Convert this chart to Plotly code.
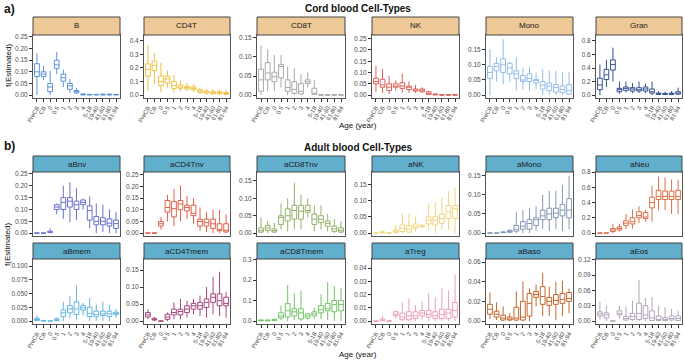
import plotly.graph_objects as go

cats = ["PreCB", "CB", "0", "0.5", "1", "2", "3", "4", "5-18", "19-40", "41-60", "61-80", "81-94"]

# each panel: (lower whisker, q1, median, q3, upper whisker)
B_lo  = [0.00, 0.065, 0.000, 0.090, 0.035, 0.010, 0.005, 0.000, 0.000, 0.000, 0.000, 0.000, 0.000]
B_q1  = [0.080, 0.080, 0.015, 0.115, 0.060, 0.025, 0.010, 0.001, 0.001, 0.001, 0.001, 0.001, 0.001]
B_med = [0.100, 0.090, 0.035, 0.130, 0.075, 0.040, 0.015, 0.003, 0.002, 0.002, 0.002, 0.002, 0.002]
B_q3  = [0.135, 0.100, 0.050, 0.150, 0.090, 0.050, 0.020, 0.005, 0.003, 0.003, 0.004, 0.004, 0.003]
B_hi  = [0.180, 0.125, 0.105, 0.185, 0.110, 0.070, 0.030, 0.008, 0.006, 0.006, 0.008, 0.008, 0.006]

CD4T_lo  = [0.03, 0.08, 0.02, 0.05, 0.02, 0.03, 0.03, 0.025, 0.010, 0.005, 0.000, 0.000, 0.000]
CD4T_q1  = [0.14, 0.18, 0.07, 0.09, 0.05, 0.05, 0.045, 0.040, 0.020, 0.015, 0.010, 0.010, 0.005]
CD4T_med = [0.19, 0.22, 0.10, 0.12, 0.07, 0.06, 0.055, 0.050, 0.030, 0.020, 0.015, 0.015, 0.013]
CD4T_q3  = [0.23, 0.25, 0.14, 0.14, 0.10, 0.075, 0.065, 0.060, 0.040, 0.030, 0.025, 0.025, 0.020]
CD4T_hi  = [0.37, 0.31, 0.24, 0.18, 0.15, 0.110, 0.090, 0.080, 0.050, 0.045, 0.045, 0.040, 0.035]

CD8T_lo  = [0.000, 0.010, 0.010, 0.020, 0.000, 0.000, 0.000, 0.020, 0.000, 0, 0, 0, 0]
CD8T_q1  = [0.010, 0.040, 0.035, 0.045, 0.010, 0.005, 0.003, 0.030, 0.002, 0, 0, 0, 0]
CD8T_med = [0.040, 0.058, 0.048, 0.075, 0.020, 0.015, 0.010, 0.035, 0.005, 0.0005, 0.0005, 0.0005, 0.0005]
CD8T_q3  = [0.068, 0.085, 0.060, 0.080, 0.040, 0.035, 0.030, 0.040, 0.018, 0.001, 0.001, 0.001, 0.001]
CD8T_hi  = [0.130, 0.120, 0.105, 0.105, 0.075, 0.070, 0.055, 0.060, 0.040, 0.001, 0.001, 0.001, 0.001]

NK_lo  = [0.015, 0.010, 0.005, 0.020, 0.010, 0.010, 0.010, 0.010, 0.000, 0.000, 0, 0, 0]
NK_q1  = [0.050, 0.035, 0.020, 0.035, 0.030, 0.025, 0.018, 0.015, 0.003, 0.001, 0, 0, 0]
NK_med = [0.060, 0.045, 0.035, 0.040, 0.040, 0.035, 0.022, 0.022, 0.008, 0.003, 0.001, 0.001, 0.001]
NK_q3  = [0.075, 0.070, 0.050, 0.050, 0.055, 0.040, 0.027, 0.027, 0.015, 0.005, 0.002, 0.002, 0.002]
NK_hi  = [0.130, 0.115, 0.085, 0.065, 0.095, 0.060, 0.045, 0.035, 0.020, 0.008, 0.004, 0.004, 0.004]

Mono_lo  = [0.000, 0.045, 0.035, 0.045, 0.015, 0.020, 0.015, 0.020, 0.000, 0.000, 0.000, 0.000, 0.000]
Mono_q1  = [0.055, 0.080, 0.075, 0.070, 0.055, 0.045, 0.045, 0.040, 0.020, 0.015, 0.010, 0.008, 0.003]
Mono_med = [0.075, 0.095, 0.100, 0.090, 0.070, 0.050, 0.055, 0.048, 0.033, 0.030, 0.025, 0.018, 0.015]
Mono_q3  = [0.095, 0.105, 0.120, 0.105, 0.080, 0.065, 0.070, 0.052, 0.045, 0.040, 0.035, 0.030, 0.035]
Mono_hi  = [0.152, 0.125, 0.185, 0.110, 0.125, 0.090, 0.095, 0.075, 0.085, 0.080, 0.080, 0.075, 0.077]

Gran_lo  = [0.00, 0.12, 0.20, 0.02, 0.04, 0.03, 0.03, 0.03, 0.00, 0.00, 0.00, 0.00, 0.00]
Gran_q1  = [0.08, 0.23, 0.37, 0.05, 0.07, 0.06, 0.06, 0.06, 0.03, 0.01, 0.01, 0.01, 0.015]
Gran_med = [0.15, 0.30, 0.45, 0.08, 0.10, 0.09, 0.08, 0.09, 0.05, 0.02, 0.02, 0.02, 0.025]
Gran_q3  = [0.25, 0.38, 0.52, 0.10, 0.12, 0.11, 0.11, 0.12, 0.09, 0.03, 0.025, 0.03, 0.05]
Gran_hi  = [0.45, 0.52, 0.70, 0.20, 0.20, 0.18, 0.20, 0.17, 0.20, 0.06, 0.05, 0.06, 0.11]

aBnv_lo  = [0, 0, 0.000, 0.080, 0.060, 0.045, 0.055, 0.100, 0.020, 0.000, 0.005, 0.000, 0.000]
aBnv_q1  = [0, 0, 0.002, 0.100, 0.100, 0.110, 0.100, 0.120, 0.055, 0.035, 0.035, 0.030, 0.020]
aBnv_med = [0, 0, 0.005, 0.110, 0.130, 0.135, 0.120, 0.130, 0.095, 0.050, 0.050, 0.042, 0.040]
aBnv_q3  = [0, 0, 0.008, 0.120, 0.150, 0.150, 0.135, 0.140, 0.115, 0.070, 0.065, 0.060, 0.055]
aBnv_hi  = [0, 0, 0.020, 0.125, 0.200, 0.215, 0.190, 0.145, 0.155, 0.125, 0.120, 0.100, 0.090]

aCD4Tnv_lo  = [0, 0, 0.015, 0.050, 0.030, 0.050, 0.060, 0.040, 0.010, 0.005, 0.000, 0.000, 0.000]
aCD4Tnv_q1  = [0, 0, 0.030, 0.090, 0.070, 0.100, 0.095, 0.075, 0.030, 0.030, 0.020, 0.010, 0.005]
aCD4Tnv_med = [0, 0, 0.040, 0.110, 0.105, 0.125, 0.110, 0.085, 0.050, 0.045, 0.040, 0.015, 0.012]
aCD4Tnv_q3  = [0, 0, 0.050, 0.140, 0.135, 0.140, 0.120, 0.120, 0.060, 0.060, 0.060, 0.040, 0.040]
aCD4Tnv_hi  = [0, 0, 0.070, 0.165, 0.190, 0.205, 0.160, 0.150, 0.110, 0.090, 0.100, 0.100, 0.080]

aCD8Tnv_lo  = [0.000, 0.000, 0.000, 0.010, 0.005, 0.010, 0.010, 0.045, 0.005, 0.010, 0.005, 0.000, 0.000]
aCD8Tnv_q1  = [0.003, 0.008, 0.003, 0.025, 0.035, 0.040, 0.040, 0.060, 0.025, 0.030, 0.020, 0.005, 0.003]
aCD8Tnv_med = [0.008, 0.015, 0.007, 0.045, 0.050, 0.065, 0.063, 0.065, 0.040, 0.040, 0.028, 0.012, 0.008]
aCD8Tnv_q3  = [0.015, 0.022, 0.012, 0.050, 0.070, 0.080, 0.080, 0.080, 0.055, 0.050, 0.035, 0.020, 0.015]
aCD8Tnv_hi  = [0.045, 0.035, 0.030, 0.085, 0.100, 0.145, 0.110, 0.100, 0.080, 0.080, 0.055, 0.040, 0.035]

aNK_lo  = [0, 0.000, 0, 0.000, 0.000, 0.000, 0.005, 0.015, 0.010, 0.000, 0.010, 0.010, 0.000]
aNK_q1  = [0, 0.001, 0, 0.002, 0.005, 0.003, 0.015, 0.020, 0.028, 0.025, 0.030, 0.045, 0.045]
aNK_med = [0, 0.002, 0, 0.005, 0.015, 0.012, 0.020, 0.022, 0.040, 0.040, 0.045, 0.065, 0.075]
aNK_q3  = [0, 0.004, 0, 0.010, 0.025, 0.022, 0.028, 0.024, 0.050, 0.050, 0.058, 0.085, 0.085]
aNK_hi  = [0, 0.008, 0, 0.025, 0.060, 0.060, 0.050, 0.027, 0.090, 0.095, 0.110, 0.130, 0.140]

aMono_lo  = [0, 0, 0.000, 0.000, 0.000, 0.000, 0.000, 0.005, 0.010, 0.005, 0.010, 0.005, 0.010]
aMono_q1  = [0, 0, 0.001, 0.002, 0.005, 0.010, 0.010, 0.020, 0.035, 0.035, 0.040, 0.045, 0.040]
aMono_med = [0, 0, 0.002, 0.004, 0.010, 0.018, 0.025, 0.035, 0.045, 0.050, 0.052, 0.060, 0.060]
aMono_q3  = [0, 0, 0.003, 0.007, 0.020, 0.030, 0.035, 0.040, 0.060, 0.065, 0.065, 0.075, 0.090]
aMono_hi  = [0, 0, 0.005, 0.010, 0.055, 0.060, 0.065, 0.070, 0.100, 0.110, 0.110, 0.125, 0.150]

aNeu_lo  = [0, 0, 0.00, 0.02, 0.05, 0.06, 0.13, 0.15, 0.15, 0.30, 0.30, 0.25, 0.25]
aNeu_q1  = [0, 0, 0.02, 0.04, 0.10, 0.12, 0.20, 0.19, 0.33, 0.44, 0.44, 0.44, 0.44]
aNeu_med = [0, 0, 0.04, 0.06, 0.13, 0.15, 0.23, 0.21, 0.40, 0.48, 0.48, 0.48, 0.48]
aNeu_q3  = [0, 0, 0.06, 0.08, 0.16, 0.20, 0.28, 0.27, 0.47, 0.56, 0.55, 0.55, 0.56]
aNeu_hi  = [0, 0, 0.12, 0.12, 0.25, 0.31, 0.35, 0.30, 0.62, 0.74, 0.73, 0.70, 0.70]

aBmem_lo  = [0.000, 0, 0, 0.000, 0.000, 0.005, 0.003, 0.010, 0.000, 0.000, 0.000, 0.000, 0.006]
aBmem_q1  = [0.001, 0, 0, 0.001, 0.008, 0.015, 0.012, 0.020, 0.008, 0.008, 0.010, 0.008, 0.012]
aBmem_med = [0.002, 0.0005, 0, 0.002, 0.015, 0.022, 0.022, 0.024, 0.014, 0.012, 0.013, 0.013, 0.014]
aBmem_q3  = [0.005, 0.001, 0, 0.004, 0.020, 0.028, 0.035, 0.028, 0.025, 0.018, 0.018, 0.018, 0.016]
aBmem_hi  = [0.010, 0.002, 0, 0.007, 0.035, 0.045, 0.065, 0.033, 0.042, 0.030, 0.035, 0.030, 0.022]

aCD4Tmem_lo  = [0.005, 0.000, 0, 0.000, 0.005, 0.005, 0.010, 0.020, 0.015, 0.010, 0.020, 0.015, 0.010]
aCD4Tmem_q1  = [0.012, 0.003, 0, 0.005, 0.018, 0.018, 0.025, 0.035, 0.035, 0.040, 0.055, 0.045, 0.045]
aCD4Tmem_med = [0.018, 0.005, 0, 0.012, 0.025, 0.028, 0.035, 0.045, 0.045, 0.055, 0.070, 0.060, 0.052]
aCD4Tmem_q3  = [0.025, 0.008, 0, 0.020, 0.035, 0.035, 0.045, 0.052, 0.055, 0.065, 0.080, 0.080, 0.070]
aCD4Tmem_hi  = [0.035, 0.012, 0, 0.025, 0.055, 0.065, 0.060, 0.065, 0.075, 0.100, 0.130, 0.145, 0.085]

aCD8Tmem_lo  = [0.000, 0.000, 0.000, 0.005, 0.000, 0.005, 0.000, 0.005, 0.010, 0.010, 0.005, 0.000, 0.000]
aCD8Tmem_q1  = [0.001, 0.001, 0.003, 0.015, 0.020, 0.025, 0.010, 0.015, 0.025, 0.040, 0.050, 0.045, 0.050]
aCD8Tmem_med = [0.003, 0.003, 0.005, 0.025, 0.050, 0.045, 0.040, 0.025, 0.035, 0.055, 0.060, 0.080, 0.080]
aCD8Tmem_q3  = [0.005, 0.005, 0.008, 0.040, 0.085, 0.060, 0.060, 0.035, 0.045, 0.075, 0.085, 0.100, 0.100]
aCD8Tmem_hi  = [0.008, 0.008, 0.012, 0.075, 0.175, 0.135, 0.150, 0.040, 0.065, 0.130, 0.190, 0.170, 0.160]

aTreg_lo  = [0, 0.0000, 0, 0.002, 0.000, 0.000, 0.000, 0.001, 0.000, 0.000, 0.000, 0.000, 0.000]
aTreg_q1  = [0, 0.0002, 0, 0.004, 0.001, 0.001, 0.002, 0.004, 0.003, 0.002, 0.002, 0.002, 0.003]
aTreg_med = [0, 0.0008, 0, 0.005, 0.003, 0.004, 0.004, 0.006, 0.005, 0.004, 0.005, 0.006, 0.008]
aTreg_q3  = [0, 0.0015, 0, 0.007, 0.006, 0.007, 0.007, 0.008, 0.008, 0.007, 0.009, 0.009, 0.014]
aTreg_hi  = [0, 0.0040, 0, 0.008, 0.014, 0.017, 0.012, 0.015, 0.021, 0.018, 0.025, 0.023, 0.035]

aBaso_lo  = [0.002, 0.001, 0.000, 0.000, 0.000, 0.000, 0.000, 0.015, 0.005, 0.005, 0.001, 0.005, 0.008]
aBaso_q1  = [0.007, 0.004, 0.001, 0.001, 0.001, 0.001, 0.005, 0.024, 0.017, 0.016, 0.017, 0.018, 0.020]
aBaso_med = [0.012, 0.007, 0.003, 0.002, 0.003, 0.004, 0.018, 0.027, 0.025, 0.020, 0.021, 0.022, 0.023]
aBaso_q3  = [0.017, 0.010, 0.006, 0.004, 0.014, 0.020, 0.028, 0.030, 0.035, 0.024, 0.027, 0.028, 0.029]
aBaso_hi  = [0.029, 0.019, 0.015, 0.008, 0.030, 0.040, 0.033, 0.037, 0.049, 0.035, 0.040, 0.041, 0.033]

aEos_lo  = [0.003, 0.000, 0, 0.005, 0.000, 0.000, 0.000, 0.000, 0.000, 0.000, 0.000, 0.000, 0.000]
aEos_q1  = [0.010, 0.006, 0, 0.012, 0.002, 0.003, 0.003, 0.005, 0.001, 0.001, 0.001, 0.002, 0.001]
aEos_med = [0.014, 0.012, 0, 0.015, 0.005, 0.009, 0.015, 0.012, 0.006, 0.003, 0.003, 0.005, 0.005]
aEos_q3  = [0.018, 0.016, 0, 0.020, 0.009, 0.015, 0.035, 0.030, 0.020, 0.010, 0.007, 0.010, 0.010]
aEos_hi  = [0.038, 0.030, 0, 0.030, 0.028, 0.040, 0.080, 0.045, 0.047, 0.030, 0.027, 0.024, 0.020]

panel_names = ["B", "CD4T", "CD8T", "NK", "Mono", "Gran",
               "aBnv", "aCD4Tnv", "aCD8Tnv", "aNK", "aMono", "aNeu",
               "aBmem", "aCD4Tmem", "aCD8Tmem", "aTreg", "aBaso", "aEos"]
panel_colors = ["#5b93dc", "#f0c040", "#a8a8a8", "#e0605a", "#93bde9", "#34508e",
                "#6a72cc", "#e0604a", "#94b068", "#efd67e", "#8598b6", "#de7048",
                "#66b6e2", "#a8467e", "#74c468", "#eaa0b8", "#c4682c", "#b4a6bc"]
# y-axis: top of data range, tick step, tick format
y_top = [0.246, 0.422, 0.150, 0.2535, 0.189, 0.845,
         0.246, 0.250, 0.1675, 0.179, 0.152, 0.762,
         0.1074, 0.1738, 0.288, 0.0446, 0.0601, 0.1156]
y_dtick = [0.05, 0.1, 0.05, 0.05, 0.05, 0.2,
           0.05, 0.05, 0.05, 0.05, 0.05, 0.2,
           0.025, 0.05, 0.1, 0.01, 0.02, 0.03]
y_fmt = [".2f", ".1f", ".2f", ".2f", ".2f", ".1f",
         ".2f", ".2f", ".2f", ".2f", ".2f", ".1f",
         ".3f", ".2f", ".1f", ".2f", ".2f", ".2f"]

W, H = 685, 361
cols_px = [(33, 120), (144, 230), (257, 345), (372, 459), (486, 573), (596, 682)]
rows_px = [(35, 98), (172, 236), (259, 324)]
strips_px = [(17, 35), (156, 172), (243, 259)]
strip_fill = ["#efc898", "#62afcd", "#62afcd"]
show_x_labels = [True, False, True]


def px_x(p):
    return p / W


def px_y(p):
    return 1 - p / H


fig = go.Figure()
layout = dict(width=W, height=H, autosize=False, margin=dict(l=0, r=0, t=0, b=0),
              paper_bgcolor="white", plot_bgcolor="white", showlegend=False,
              font=dict(family="Liberation Sans, Arial, sans-serif", color="#222"))
shapes, annotations = [], []

g = globals()
for i, name in enumerate(panel_names):
    r, c = divmod(i, 6)
    k = "" if i == 0 else str(i + 1)
    color = panel_colors[i]
    fig.add_trace(go.Box(
        x=cats, lowerfence=g[name + "_lo"], q1=g[name + "_q1"], median=g[name + "_med"],
        q3=g[name + "_q3"], upperfence=g[name + "_hi"],
        xaxis="x" + k, yaxis="y" + k, width=0.72, whiskerwidth=0,
        line=dict(color=color, width=1), fillcolor="rgba(255,255,255,0)",
        boxpoints=False, hoverinfo="skip"))
    x0, x1 = cols_px[c]
    y0, y1 = rows_px[r]
    top = y_top[i]
    lab = show_x_labels[r]
    layout["xaxis" + k] = dict(
        domain=[px_x(x0), px_x(x1)], anchor="y" + k, type="category",
        categoryorder="array", categoryarray=cats, range=[-0.6, 12.6],
        tickmode="linear", tick0=0, dtick=1,
        showline=True, mirror=True, linecolor="#555", linewidth=1,
        ticks="outside" if lab else "", ticklen=3, tickcolor="#333", tickwidth=1,
        showticklabels=lab,
        tickangle=-60, tickfont=dict(size=6, color="#4d4d4d"),
        showgrid=False, zeroline=False, fixedrange=True, automargin=False)
    layout["yaxis" + k] = dict(
        domain=[px_y(y1), px_y(y0)], anchor="x" + k,
        range=[-0.05 * top, 1.05 * top], dtick=y_dtick[i], tick0=0, tickformat=y_fmt[i],
        showline=True, mirror=True, linecolor="#555", linewidth=1,
        ticks="outside", ticklen=3, tickcolor="#333", tickwidth=1,
        tickfont=dict(size=6.5, color="#4d4d4d"),
        showgrid=False, zeroline=False, fixedrange=True, automargin=False)
    s0, s1 = strips_px[r]
    shapes.append(dict(type="rect", xref="paper", yref="paper",
                       x0=px_x(x0), x1=px_x(x1), y0=px_y(s1), y1=px_y(s0),
                       fillcolor=strip_fill[r], line=dict(color="#444", width=1)))
    annotations.append(dict(text=name, xref="paper", yref="paper",
                            x=px_x((x0 + x1) / 2), y=px_y((s0 + s1) / 2),
                            xanchor="center", yanchor="middle", showarrow=False,
                            font=dict(size=8, color="#1a1a1a")))

texts = [
    ("a)", 2, 9, 12, "left", True),
    ("b)", 2, 146, 12, "left", True),
    ("Cord blood Cell-Types", 358, 8, 10, "center", True),
    ("Adult blood Cell-Types", 358, 147, 10, "center", True),
    ("Age (year)", 358, 125, 8, "center", False),
    ("Age (year)", 358, 354, 8, "center", False),
]
for t, x, y, sz, xa, bold in texts:
    annotations.append(dict(text=("<b>%s</b>" % t) if bold else t, xref="paper", yref="paper",
                            x=px_x(x), y=px_y(y), xanchor=xa, yanchor="middle",
                            showarrow=False, font=dict(size=sz, color="#111")))
for y in (66, 245):
    annotations.append(dict(text="f(Estimated)", xref="paper", yref="paper",
                            x=px_x(8), y=px_y(y), xanchor="center", yanchor="middle",
                            textangle=-90, showarrow=False, font=dict(size=8, color="#111")))

layout["shapes"] = shapes
layout["annotations"] = annotations
fig.update_layout(**layout)
fig.write_html("out.html", config={"displayModeBar": False},
               post_script="document.body.style.margin='0px';document.body.style.overflow='hidden';")
